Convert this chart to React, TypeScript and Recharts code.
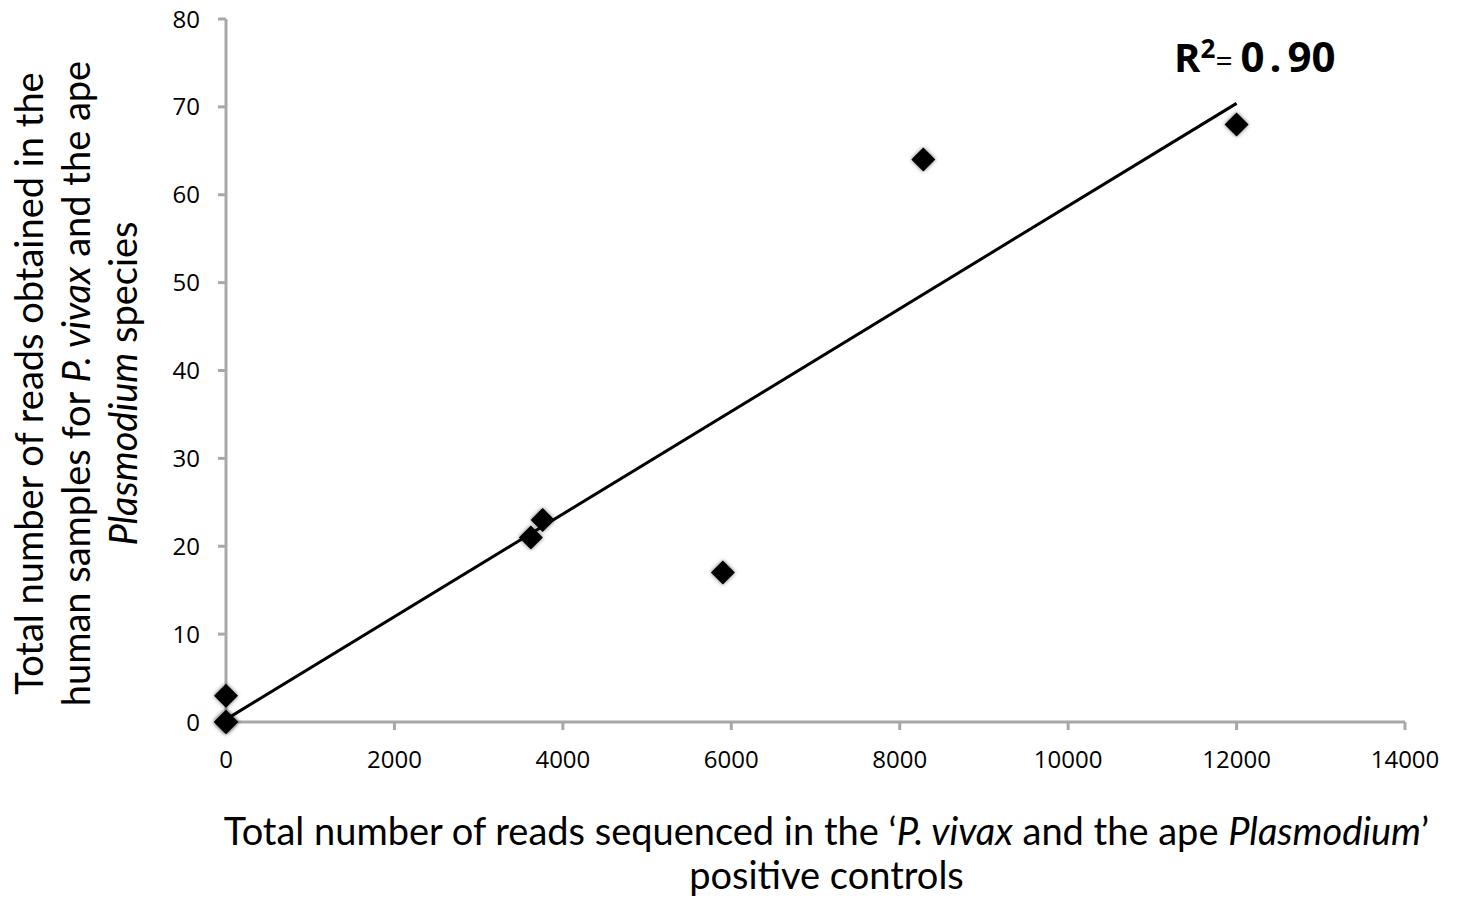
import * as React from "react";
import {
  ScatterChart,
  Scatter,
  XAxis,
  YAxis,
  ReferenceDot,
} from "recharts";

// Reads sequenced in positive controls vs reads found in human samples.
const controlReads = [0, 0, 0, 3620, 3760, 5900, 8280, 12000];
const humanReads = [0, 0, 3, 21, 23, 17, 64, 68];

// Fitted trend line.
const trendX = [0, 12000];
const trendY = [0.3, 70.4];

const xTicks = [0, 2000, 4000, 6000, 8000, 10000, 12000, 14000];
const yTicks = [0, 10, 20, 30, 40, 50, 60, 70, 80];

const rSquared = "0.90";

const points = controlReads.map((x, i) => ({ x, y: humanReads[i] }));
const trend = trendX.map((x, i) => ({ x, y: trendY[i] }));

const FONT = "'Open Sans', 'Noto Sans', sans-serif";
const TITLE_FONT = "Lato, 'Open Sans', sans-serif";
const AXIS_GRAY = "#a8a8a8";

function Diamond(props: any) {
  const { cx, cy } = props;
  const h = 12;
  const pts = `${cx},${cy - h} ${cx + h},${cy} ${cx},${cy + h} ${cx - h},${cy}`;
  return (
    <g>
      <polygon points={pts} fill="#000" opacity={0.55} style={{ filter: "blur(2px)" }} />
      <polygon points={pts} fill="#000" />
    </g>
  );
}

function XTitle(props: any) {
  const { viewBox } = props;
  const cx = viewBox.x + viewBox.width / 2 + 11;
  return (
    <text fontFamily={TITLE_FONT} fontSize={38} fill="#000" textAnchor="middle">
      <tspan x={cx} y={viewBox.y + 123}>
        Total number of reads sequenced in the ‘<tspan fontStyle="italic">P. vivax</tspan> and the ape{" "}
        <tspan fontStyle="italic">Plasmodium</tspan>’
      </tspan>
      <tspan x={cx} y={viewBox.y + 167}>
        positive controls
      </tspan>
    </text>
  );
}

function YTitle(props: any) {
  const { viewBox } = props;
  const cy = viewBox.y + viewBox.height / 2 + 13;
  const line = (x: number, content: React.ReactNode) => (
    <text
      x={x}
      y={cy}
      transform={`rotate(-90 ${x} ${cy})`}
      fontFamily={TITLE_FONT}
      fontSize={38}
      fill="#000"
      textAnchor="middle"
      dominantBaseline="central"
    >
      {content}
    </text>
  );
  return (
    <g>
      {line(28, "Total number of reads obtained in the")}
      {line(
        75,
        <>
          human samples for <tspan fontStyle="italic">P. vivax</tspan> and the ape
        </>
      )}
      {line(
        122,
        <>
          <tspan fontStyle="italic">Plasmodium</tspan> species
        </>
      )}
    </g>
  );
}

function RLabel(props: any) {
  const { viewBox } = props;
  const x = viewBox.x;
  const y = viewBox.y;
  return (
    <text x={x} y={y} fontFamily={FONT} fontWeight="bold" fill="#000">
      <tspan fontSize={40}>R</tspan>
      <tspan fontSize={26} dy={-14}>2</tspan>
      <tspan fontSize={30} fontWeight="normal" dy={13}>=</tspan>
      <tspan fontSize={42} dx={8} dy={1}>0</tspan>
      <tspan fontSize={42} dx={5}>.</tspan>
      <tspan fontSize={42} dx={6}>{rSquared.slice(2)}</tspan>
    </text>
  );
}

export default function App() {
  const tickStyle = { fontFamily: FONT, fontSize: 24, fill: "#000" };
  return (
    <div style={{ position: "absolute", left: 0, top: 0, width: 1458, height: 898, background: "#fff" }}>
      <ScatterChart
        width={1458}
        height={898}
        margin={{ top: 19, right: 53, bottom: 0, left: 0 }}
      >
        <XAxis
          type="number"
          dataKey="x"
          domain={[0, 14000]}
          ticks={xTicks}
          interval={0}
          height={176}
          axisLine={{ stroke: AXIS_GRAY, strokeWidth: 3 }}
          tickLine={{ stroke: AXIS_GRAY, strokeWidth: 3 }}
          tickSize={8}
          tickMargin={21}
          tick={tickStyle}
          label={{ content: <XTitle /> }}
        />
        <YAxis
          type="number"
          dataKey="y"
          domain={[0, 80]}
          ticks={yTicks}
          interval={0}
          width={226}
          axisLine={{ stroke: AXIS_GRAY, strokeWidth: 3 }}
          tickLine={{ stroke: AXIS_GRAY, strokeWidth: 3 }}
          tickSize={8}
          tickMargin={18}
          tick={tickStyle}
          label={{ content: <YTitle /> }}
        />
        <Scatter
          data={trend}
          line={{ stroke: "#000", strokeWidth: 3 }}
          shape={() => <g />}
          isAnimationActive={false}
        />
        <Scatter data={points} shape={<Diamond />} isAnimationActive={false} />
        <ReferenceDot
          x={11270}
          y={73.9}
          r={1}
          fill="none"
          stroke="none"
          ifOverflow="visible"
          label={{ content: <RLabel /> }}
        />
      </ScatterChart>
    </div>
  );
}
